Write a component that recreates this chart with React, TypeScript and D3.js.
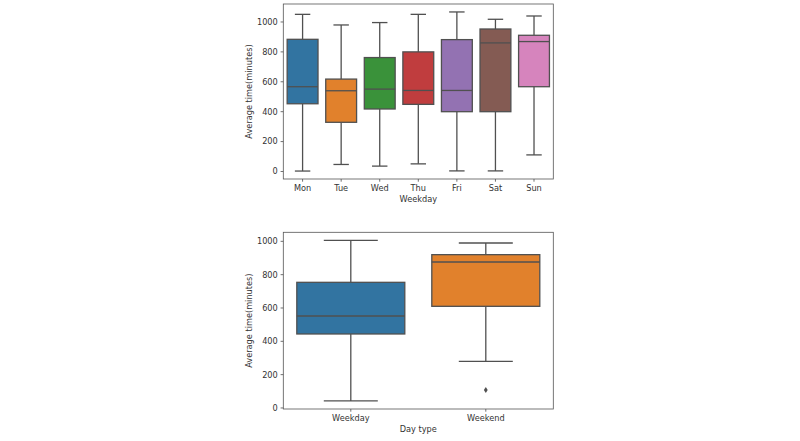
import * as d3 from 'd3';
import * as React from 'react';

// Weekday breakdown (top panel)
const weekdays = ['Mon', 'Tue', 'Wed', 'Thu', 'Fri', 'Sat', 'Sun'];
const weekdayLow = [3, 47, 36, 51, 4, 4, 111];
const weekdayQ1 = [453, 329, 418, 449, 400, 400, 567];
const weekdayMedian = [567, 540, 551, 542, 542, 860, 869];
const weekdayQ3 = [884, 618, 762, 800, 882, 953, 911];
const weekdayHigh = [1051, 980, 996, 1051, 1067, 1018, 1040];
const weekdayOutliers: number[][] = [[], [], [], [], [], [], []];
const weekdayColors = ['#3274a1', '#e1812c', '#3a923a', '#c03d3e', '#9372b2', '#845b53', '#d684bd'];

// Weekday vs weekend (bottom panel)
const dayTypes = ['Weekday', 'Weekend'];
const dayTypeLow = [42, 280];
const dayTypeQ1 = [444, 610];
const dayTypeMedian = [552, 876];
const dayTypeQ3 = [754, 920];
const dayTypeHigh = [1006, 990];
const dayTypeOutliers: number[][] = [[], [108]];
const dayTypeColors = ['#3274a1', '#e1812c'];

const yTicks = [0, 200, 400, 600, 800, 1000];

const lineColor = '#505050';
const lineW = 1.3;
const textColor = '#333';
const font = 'DejaVu Sans, sans-serif';
const fontSize = 8.2;

interface BoxPanelProps {
    left: number;
    right: number;
    top: number;
    bottom: number;
    categories: string[];
    low: number[];
    q1: number[];
    median: number[];
    q3: number[];
    high: number[];
    outliers: number[][];
    colors: string[];
    xLabel: string;
    yLabel: string;
}

/**
 * One seaborn-style box plot panel
 */
const BoxPanel = (p: BoxPanelProps) => {
    const all = [...p.low, ...p.high, ...p.outliers.flat()];
    const lo = d3.min(all) as number;
    const hi = d3.max(all) as number;
    const pad = (hi - lo) * 0.05;
    const y = d3.scaleLinear().domain([lo - pad, hi + pad]).range([p.bottom, p.top]);
    const x = d3.scaleBand().domain(p.categories).range([p.left, p.right]);
    const boxW = x.bandwidth() * 0.8;
    const capW = boxW / 2;
    const tickLen = 2.7;

    return (
        <g>
            {p.categories.map((c, i) => {
                const cx = (x(c) as number) + x.bandwidth() / 2;
                return (
                    <g key={c}>
                        <line x1={cx} x2={cx} y1={y(p.low[i])} y2={y(p.q1[i])} stroke={lineColor} strokeWidth={lineW} />
                        <line x1={cx} x2={cx} y1={y(p.q3[i])} y2={y(p.high[i])} stroke={lineColor} strokeWidth={lineW} />
                        <line x1={cx - capW / 2} x2={cx + capW / 2} y1={y(p.low[i])} y2={y(p.low[i])} stroke={lineColor} strokeWidth={lineW} />
                        <line x1={cx - capW / 2} x2={cx + capW / 2} y1={y(p.high[i])} y2={y(p.high[i])} stroke={lineColor} strokeWidth={lineW} />
                        <rect
                            x={cx - boxW / 2}
                            width={boxW}
                            y={y(p.q3[i])}
                            height={y(p.q1[i]) - y(p.q3[i])}
                            fill={p.colors[i]}
                            stroke={lineColor}
                            strokeWidth={lineW}
                        />
                        <line x1={cx - boxW / 2} x2={cx + boxW / 2} y1={y(p.median[i])} y2={y(p.median[i])} stroke={lineColor} strokeWidth={lineW} />
                        {p.outliers[i].map((v, j) => (
                            <path
                                key={j}
                                d={`M${cx},${y(v) - 3}L${cx + 1.9},${y(v)}L${cx},${y(v) + 3}L${cx - 1.9},${y(v)}Z`}
                                fill={lineColor}
                            />
                        ))}
                        <line x1={cx} x2={cx} y1={p.bottom} y2={p.bottom + tickLen} stroke="#333" strokeWidth={0.7} />
                        <text x={cx} y={p.bottom + 11.5} textAnchor="middle" fontSize={fontSize} fontFamily={font} fill={textColor}>{c}</text>
                    </g>
                );
            })}
            {yTicks.map(t => (
                <g key={t}>
                    <line x1={p.left - tickLen} x2={p.left} y1={y(t)} y2={y(t)} stroke="#333" strokeWidth={0.7} />
                    <text x={p.left - 5.5} y={y(t)} dy="0.35em" textAnchor="end" fontSize={fontSize} fontFamily={font} fill={textColor}>{t}</text>
                </g>
            ))}
            <rect
                x={p.left}
                y={p.top}
                width={p.right - p.left}
                height={p.bottom - p.top}
                fill="none"
                stroke="#555"
                strokeWidth={0.8}
            />
            <text x={(p.left + p.right) / 2} y={p.bottom + 22.5} textAnchor="middle" fontSize={fontSize} fontFamily={font} fill={textColor}>{p.xLabel}</text>
            <text
                transform={`translate(252,${(p.top + p.bottom) / 2}) rotate(-90)`}
                textAnchor="middle"
                fontSize={fontSize}
                fontFamily={font}
                fill={textColor}
            >{p.yLabel}</text>
        </g>
    );
};

export default function App() {
    return (
        <svg
            width={800}
            height={441}
            style={{ position: 'absolute', left: 0, top: 0, background: '#fff' }}
        >
            <BoxPanel
                left={283.3}
                right={553.3}
                top={4}
                bottom={179}
                categories={weekdays}
                low={weekdayLow}
                q1={weekdayQ1}
                median={weekdayMedian}
                q3={weekdayQ3}
                high={weekdayHigh}
                outliers={weekdayOutliers}
                colors={weekdayColors}
                xLabel="Weekday"
                yLabel="Average time(minutes)"
            />
            <BoxPanel
                left={283.3}
                right={553.3}
                top={232.3}
                bottom={409}
                categories={dayTypes}
                low={dayTypeLow}
                q1={dayTypeQ1}
                median={dayTypeMedian}
                q3={dayTypeQ3}
                high={dayTypeHigh}
                outliers={dayTypeOutliers}
                colors={dayTypeColors}
                xLabel="Day type"
                yLabel="Average time(minutes)"
            />
        </svg>
    );
}
